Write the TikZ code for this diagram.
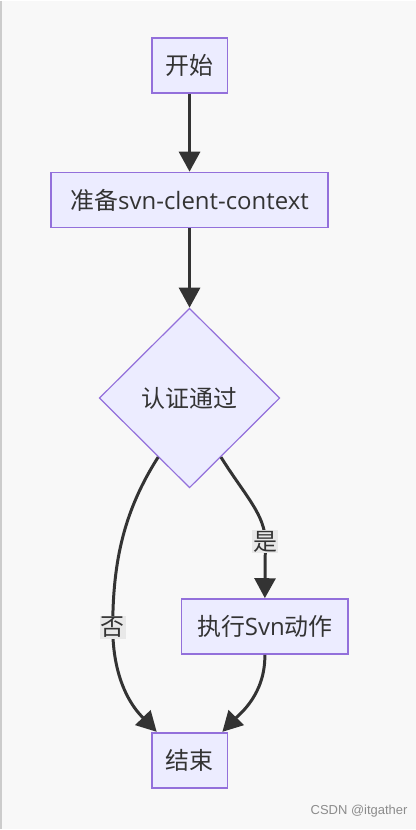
\documentclass[tikz,border=0pt]{standalone}
\usepackage{fontspec}
\setmainfont{Open Sans}
\newfontfamily\cjk{Noto Sans CJK SC}
\newfontfamily\markfont{Liberation Sans}
\usetikzlibrary{shapes.geometric,arrows.meta}
\definecolor{nodefill}{HTML}{ECECFF}
\definecolor{nodeline}{HTML}{9370DB}
\definecolor{edgeline}{HTML}{333333}
\definecolor{lblfill}{HTML}{E8E8E8}
\definecolor{bgcol}{HTML}{F8F8F8}
\begin{document}
\begin{tikzpicture}[x=1pt, y=-1pt,
  box/.style={draw=nodeline, fill=nodefill, line width=1.8pt, minimum height=55pt, inner sep=2pt, text=edgeline, font=\fontsize{24}{28}\selectfont},
  decision/.style={diamond, draw=nodeline, fill=nodefill, line width=1.2pt, minimum width=181pt, minimum height=180pt, inner sep=0pt, text=edgeline, font=\fontsize{24}{28}\selectfont},
  edge/.style={draw=edgeline, line width=3pt, -{Triangle[length=20pt,width=21pt]}},
  elabel/.style={fill=lblfill, inner sep=1pt, text=edgeline, font=\fontsize{24}{28}\selectfont}]
% background and frame
\fill[bgcol] (0,0) rectangle (417,830);
\draw[black!20, line width=2pt] (1,0) -- (1,830);
\useasboundingbox (0,0) rectangle (417,830);
% nodes
\node (start) at (190,64.5) [box, minimum width=76pt] {\cjk 开始};
\node (prep) at (190,199.5) [box, minimum width=278pt] {{\cjk 准备}svn-clent-context};
\node (auth) at (190,398) [decision] {\cjk 认证通过};
\node (act) at (265.5,627) [box, minimum width=167pt] {{\cjk 执行}Svn{\cjk 动作}};
\node (stop) at (190,761) [box, minimum width=76pt] {\cjk 结束};
% edges
\draw[edge] (start) -- (prep);
\draw[edge] (prep) -- (auth);
\draw[edge] (auth.298) .. controls (245,495) and (266,515) .. (266,542) node[elabel] {\cjk 是} -- (act.north);
\draw[edge] (auth.242) .. controls (125,510) and (113,560) .. (113,628) node[elabel] {\cjk 否} .. controls (113,690) and (140,715) .. ([xshift=6pt]stop.north west);
\draw[edge] (act.south) .. controls (266,695) and (240,715) .. ([xshift=-6pt]stop.north east);
% watermark
\node (mark) at (412,812) [anchor=east, text=black!45, font=\markfont\fontsize{13}{15}\selectfont] {CSDN @itgather};
\end{tikzpicture}
\end{document}
